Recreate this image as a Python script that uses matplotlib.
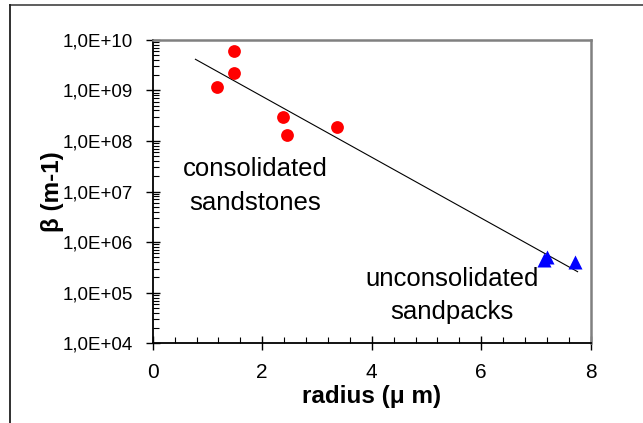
import numpy as np
import matplotlib
matplotlib.use("Agg")
import matplotlib.pyplot as plt
from matplotlib.lines import Line2D
from matplotlib.ticker import FixedLocator, MultipleLocator, LogLocator, NullFormatter

plt.rcParams['font.family'] = ['Liberation Sans', 'DejaVu Sans']

# Consolidated sandstones (radius in micrometres, beta in 1/m)
sandstone_radius = [1.48, 1.48, 1.18, 2.38, 2.46, 3.36]
sandstone_beta = [6.0e9, 2.2e9, 1.17e9, 3.0e8, 1.33e8, 1.9e8]

# Unconsolidated sandpacks
sandpack_radius = [7.15, 7.21, 7.72]
sandpack_beta = [4.5e5, 5.1e5, 4.1e5]

# Exponential trend over the range covered by the samples
trend_range = [0.78, 7.76]

x_ticks = [0, 2, 4, 6, 8]
x_tick_labels = ["0", "2", "4", "6", "8"]
y_ticks = [1e4, 1e5, 1e6, 1e7, 1e8, 1e9, 1e10]
y_tick_labels = ["1,0E+04", "1,0E+05", "1,0E+06", "1,0E+07",
                 "1,0E+08", "1,0E+09", "1,0E+10"]

fig = plt.figure(figsize=(6.43, 4.23), dpi=100)
ax = fig.add_axes([0.2375, 0.1884, 0.9187 - 0.2375, 0.9061 - 0.1884])

# Fit log10(beta) = a*r + b over all samples
all_r = np.array(sandstone_radius + sandpack_radius)
all_b = np.log10(np.array(sandstone_beta + sandpack_beta))
slope, intercept = np.polyfit(all_r, all_b, 1)
r_line = np.array(trend_range)
ax.plot(r_line, 10 ** (slope * r_line + intercept), color='black', lw=0.8, zorder=2)

ax.plot(sandstone_radius, sandstone_beta, 'o', color='#ff0000', ms=9.2,
        mec='none', zorder=3)
ax.plot(sandpack_radius, sandpack_beta, '^', color='#0000ff', ms=10,
        mec='none', zorder=3)

ax.set_yscale('log')
ax.set_xlim(0, 8)
ax.set_ylim(1e4, 1e10)

ax.xaxis.set_major_locator(FixedLocator(x_ticks))
ax.set_xticklabels(x_tick_labels, fontsize=15)
ax.xaxis.set_minor_locator(MultipleLocator(0.4))
ax.yaxis.set_major_locator(FixedLocator(y_ticks))
ax.set_yticklabels(y_tick_labels, fontsize=13.5)
ax.yaxis.set_minor_locator(LogLocator(base=10, subs=np.arange(2, 10)))
ax.yaxis.set_minor_formatter(NullFormatter())

ax.tick_params(axis='x', which='major', direction='inout', length=10, width=1,
               pad=9)
ax.tick_params(axis='y', which='major', direction='inout', length=10, width=1,
               pad=9)
ax.tick_params(which='minor', direction='in', length=4, width=0.8)
ax.tick_params(top=False, right=False, which='both')

for side in ('left', 'bottom'):
    ax.spines[side].set_color('black')
    ax.spines[side].set_linewidth(1.3)
for side in ('top', 'right'):
    ax.spines[side].set_color('#808080')
    ax.spines[side].set_linewidth(1.8)

ax.set_xlabel('radius (μ m)', fontsize=17.5, fontweight='bold', labelpad=2)
ax.set_ylabel('β (m-1)', fontsize=17.5, fontweight='bold', labelpad=-1)

ax.text(0.2336, 0.518, 'consolidated\nsandstones', transform=ax.transAxes,
        ha='center', va='center', fontsize=18.5, linespacing=1.5)
ax.text(0.684, 0.1575, 'unconsolidated\nsandpacks', transform=ax.transAxes,
        ha='center', va='center', fontsize=18.5, linespacing=1.5)

# Outer chart-area frame (top and left edges)
fig.add_artist(Line2D([10 / 643, 1.0], [1 - 5 / 423, 1 - 5 / 423],
                      transform=fig.transFigure, color='#505050', lw=1.3))
fig.add_artist(Line2D([10 / 643, 10 / 643], [0.0, 1 - 5 / 423],
                      transform=fig.transFigure, color='#202020', lw=1.3))

fig.savefig('out.png', dpi=100)
